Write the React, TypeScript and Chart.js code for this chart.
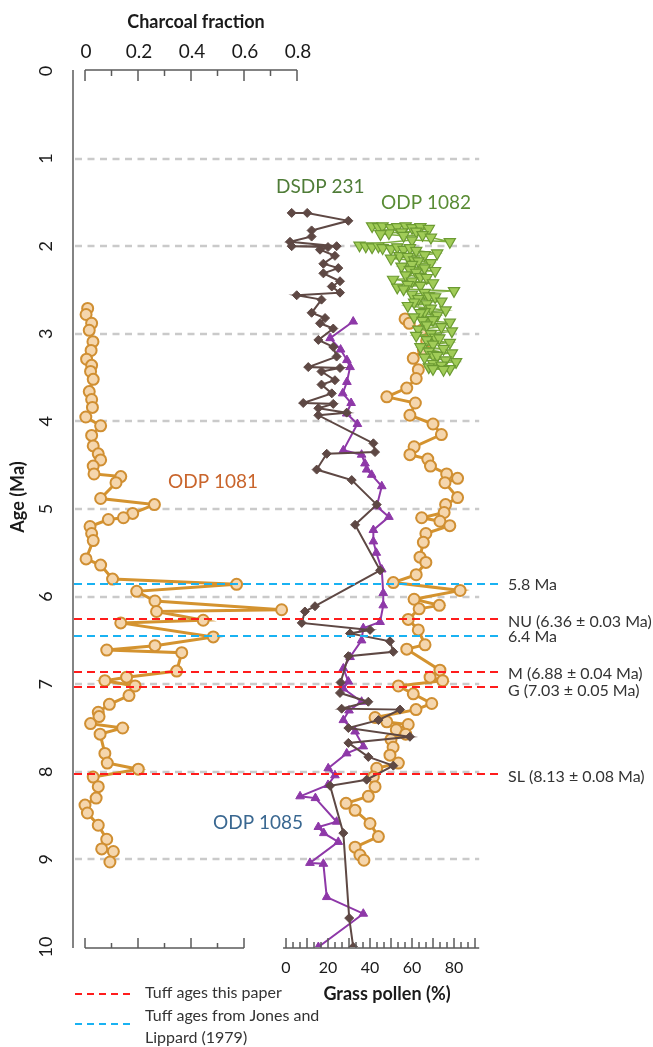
import React, { useEffect, useRef } from 'react';
import { Chart, registerables } from 'chart.js';
Chart.register(...registerables);

const FONT = 'Lato, "Open Sans", sans-serif';

// ---------- axes / ticks ----------
const AGE_TICKS = [0, 1, 2, 3, 4, 5, 6, 7, 8, 9, 10];
const GRID_AGES = [1, 2, 3, 4, 5, 6, 7, 8, 9];
const CHARCOAL_MAJOR = [0, 0.2, 0.4, 0.6, 0.8];
const CHARCOAL_LABELS = ['0', '0.2', '0.4', '0.6', '0.8'];
const CHARCOAL_MINOR = [0.1, 0.3, 0.5, 0.7];
const POLLEN_LABEL_VALUES = [0, 20, 40, 60, 80];
const POLLEN_LABELS = ['0', '20', '40', '60', '80'];

// ---------- tuff reference lines ----------
const TUFF_PAPER_AGES = [6.26, 6.86, 7.03, 8.03];
const TUFF_PAPER_LABELS = ['NU (6.36 ± 0.03 Ma)', 'M (6.88 ± 0.04 Ma)', 'G (7.03 ± 0.05 Ma)', 'SL (8.13 ± 0.08 Ma)'];
const TUFF_JL_AGES = [5.86, 6.45];
const TUFF_JL_LABELS = ['5.8 Ma', '6.4 Ma'];

// ---------- series: [age (Ma), value] ----------
const ODP1081_CHARCOAL: [number, number][] = [
  [2.71, 0.010], [2.78, 0.004], [2.88, 0.025], [2.96, 0.016], [3.09, 0.030], [3.19, 0.023], [3.29, 0.006],
  [3.36, 0.025], [3.43, 0.021], [3.52, 0.031], [3.66, 0.016], [3.75, 0.025], [3.84, 0.028], [3.95, 0.003],
  [4.05, 0.059], [4.16, 0.025], [4.28, 0.031], [4.37, 0.050], [4.44, 0.059], [4.51, 0.031], [4.60, 0.034],
  [4.63, 0.135], [4.70, 0.117], [4.88, 0.059], [4.95, 0.262], [5.05, 0.180], [5.10, 0.145], [5.12, 0.088],
  [5.20, 0.019], [5.28, 0.025], [5.36, 0.031], [5.57, 0.004], [5.64, 0.059], [5.80, 0.104], [5.86, 0.572],
  [5.94, 0.195], [6.05, 0.264], [6.15, 0.742], [6.17, 0.270], [6.27, 0.446], [6.30, 0.135], [6.46, 0.484],
  [6.56, 0.264], [6.61, 0.082], [6.64, 0.365], [6.85, 0.346], [6.92, 0.157], [6.96, 0.075], [7.02, 0.189],
  [7.13, 0.166], [7.23, 0.092], [7.32, 0.050], [7.37, 0.053], [7.45, 0.021], [7.50, 0.142], [7.57, 0.057],
  [7.79, 0.075], [7.90, 0.084], [7.97, 0.201], [8.06, 0.031], [8.17, 0.050], [8.30, 0.042], [8.38, 0.000],
  [8.47, 0.009], [8.61, 0.050], [8.77, 0.082], [8.88, 0.063], [8.91, 0.107], [9.03, 0.094],
];

const ODP1081_POLLEN: [number, number][] = [
  [2.83, 56.7], [2.88, 58.7], [2.96, 64.6], [3.08, 67.0], [3.18, 65.4], [3.28, 60.6], [3.41, 63.0],
  [3.51, 62.0], [3.62, 57.5], [3.72, 48.0], [3.79, 61.6], [3.93, 59.0], [4.03, 70.0], [4.15, 74.0],
  [4.29, 61.0], [4.38, 59.0], [4.43, 67.5], [4.51, 68.8], [4.60, 76.5], [4.65, 81.7], [4.70, 75.7],
  [4.87, 81.7], [4.95, 76.0], [5.04, 75.3], [5.10, 64.6], [5.14, 73.3], [5.19, 78.0], [5.28, 66.6],
  [5.38, 65.4], [5.55, 63.8], [5.61, 66.6], [5.75, 62.0], [5.84, 51.1], [5.93, 82.9], [6.03, 61.0],
  [6.10, 73.0], [6.14, 63.4], [6.26, 58.2], [6.38, 63.0], [6.55, 66.2], [6.60, 57.5], [6.84, 73.3],
  [6.92, 68.6], [6.96, 74.6], [7.02, 53.5], [7.11, 60.6], [7.22, 69.4], [7.29, 61.9], [7.38, 42.4],
  [7.43, 48.0], [7.46, 58.2], [7.52, 52.5], [7.57, 57.0], [7.63, 50.0], [7.72, 51.0], [7.81, 49.5],
  [7.90, 53.5], [7.96, 43.2], [8.06, 41.6], [8.17, 42.4], [8.28, 39.2], [8.36, 28.6], [8.44, 32.9],
  [8.59, 40.0], [8.74, 44.0], [8.86, 32.9], [8.95, 35.2], [9.01, 37.1],
];

const DSDP231_POLLEN: [number, number][] = [
  [1.62, 2.7], [1.62, 10.1], [1.71, 29.7], [1.82, 12.2], [1.89, 12.2], [1.95, 1.9], [2.00, 24.1],
  [2.00, 2.7], [2.01, 20.0], [2.04, 16.2], [2.11, 23.3], [2.20, 17.8], [2.25, 24.9], [2.31, 17.8],
  [2.40, 25.7], [2.46, 21.8], [2.53, 25.7], [2.56, 5.1], [2.61, 16.9], [2.76, 12.2], [2.82, 18.6],
  [2.88, 16.2], [2.94, 22.5], [3.07, 15.4], [3.15, 22.5], [3.26, 24.1], [3.38, 10.6], [3.39, 25.7],
  [3.43, 16.9], [3.53, 23.3], [3.58, 16.9], [3.68, 21.8], [3.79, 8.2], [3.80, 22.5], [3.85, 15.4],
  [3.90, 28.9], [3.93, 15.4], [4.25, 41.6], [4.35, 42.4], [4.37, 19.4], [4.55, 14.6], [4.67, 31.3],
  [4.95, 43.2], [5.18, 32.9], [5.70, 44.8], [6.11, 13.8], [6.17, 9.0], [6.30, 7.5], [6.38, 40.0],
  [6.42, 30.5], [6.51, 49.5], [6.63, 51.1], [6.68, 29.7], [6.98, 26.0], [7.10, 25.7], [7.20, 39.2],
  [7.28, 26.5], [7.29, 54.3], [7.41, 44.0], [7.50, 29.7], [7.60, 59.0], [7.67, 29.7], [7.83, 39.2],
  [7.93, 51.1], [8.09, 38.4], [8.16, 21.0], [8.70, 27.3], [9.67, 30.1], [10.0, 32.0],
];

const ODP1085_POLLEN: [number, number][] = [
  [2.86, 32.0], [3.05, 21.0], [3.18, 26.0], [3.30, 29.0], [3.38, 30.5], [3.55, 29.0], [3.68, 27.0],
  [3.79, 31.0], [3.91, 28.9], [4.03, 34.0], [4.33, 27.3], [4.38, 36.0], [4.48, 37.6], [4.55, 38.4],
  [4.61, 40.8], [4.74, 45.6], [4.97, 43.2], [5.09, 49.0], [5.24, 41.6], [5.37, 41.6], [5.50, 43.0],
  [5.69, 45.6], [5.96, 46.3], [6.10, 46.3], [6.29, 44.8], [6.36, 36.8], [6.50, 36.0], [6.69, 30.5],
  [6.82, 27.3], [6.97, 29.7], [7.05, 27.3], [7.20, 36.0], [7.30, 30.0], [7.41, 27.3], [7.54, 32.9],
  [7.71, 36.8], [7.79, 28.9], [7.96, 20.1], [8.04, 23.3], [8.15, 20.0], [8.28, 6.7], [8.30, 14.0],
  [8.57, 24.1], [8.63, 15.4], [8.70, 18.0], [8.80, 24.9], [9.04, 11.4], [9.05, 17.8], [9.43, 19.4],
  [9.62, 36.8], [10.0, 15.4],
];

const ODP1082_POLLEN: [number, number][] = [
  [1.77, 41], [1.78, 44], [1.77, 46], [1.79, 50], [1.78, 53], [1.77, 57], [1.79, 60], [1.78, 64], [1.80, 68],
  [1.83, 62], [1.84, 55], [1.85, 49], [1.86, 45], [1.88, 56], [1.87, 65], [1.90, 69], [1.95, 78], [1.93, 60],
  [1.99, 35], [2.00, 38], [2.01, 41], [2.00, 44], [2.02, 46], [2.03, 50], [2.01, 53], [2.04, 56], [2.02, 59],
  [2.05, 62], [2.08, 72], [2.10, 66], [2.11, 54], [2.12, 58], [2.14, 50], [2.16, 61], [2.17, 63], [2.19, 69],
  [2.21, 60], [2.23, 55], [2.25, 66], [2.27, 59], [2.28, 71], [2.30, 62], [2.33, 57], [2.35, 64], [2.36, 67],
  [2.38, 51], [2.40, 60], [2.42, 70], [2.44, 58], [2.45, 64], [2.47, 53], [2.49, 56], [2.51, 80], [2.53, 66],
  [2.55, 60], [2.57, 68], [2.58, 71], [2.60, 63], [2.63, 74], [2.64, 61], [2.66, 67], [2.68, 58], [2.71, 69],
  [2.73, 76], [2.75, 66], [2.76, 64], [2.79, 72], [2.81, 61], [2.84, 70], [2.85, 65], [2.87, 78], [2.90, 67],
  [2.92, 74], [2.95, 63], [2.97, 79], [3.00, 69], [3.02, 62], [3.04, 71], [3.05, 73], [3.07, 67], [3.10, 78],
  [3.12, 70], [3.15, 64], [3.17, 75], [3.20, 68], [3.22, 79], [3.24, 70], [3.25, 72], [3.27, 66], [3.30, 76],
  [3.32, 81], [3.34, 70], [3.36, 74], [3.38, 68], [3.40, 78], [3.41, 75], [3.40, 70],
];

const SERIES_LABELS = ['DSDP 231', 'ODP 1082', 'ODP 1081', 'ODP 1085'];
const LEGEND_TEXTS = ['Tuff ages this paper', 'Tuff ages from Jones and', 'Lippard (1979)'];

const toXY = (arr: [number, number][]) => arr.map(([age, v]) => ({ x: v, y: age }));

function seg(ctx: CanvasRenderingContext2D, x0: number, y0: number, x1: number, y1: number) {
  ctx.beginPath();
  ctx.moveTo(x0, y0);
  ctx.lineTo(x1, y1);
  ctx.stroke();
}

const decorPlugin = {
  id: 'decor',
  beforeDatasetsDraw(chart: any) {
    const { ctx, chartArea, scales } = chart;
    const y = scales.y, xp = scales.xp;
    ctx.save();
    ctx.strokeStyle = '#cacaca';
    ctx.lineWidth = 2.5;
    ctx.setLineDash([7, 5.5]);
    const x0 = chartArea.left + 2, x1 = xp.getPixelForValue(92);
    GRID_AGES.forEach((a) => {
      const py = Math.round(y.getPixelForValue(a));
      seg(ctx, x0, py, x1, py);
    });
    ctx.restore();
  },
  afterDatasetsDraw(chart: any) {
    const { ctx, chartArea, scales } = chart;
    const y = scales.y;
    const x0 = chartArea.left + 1, x1 = chartArea.right;
    ctx.save();
    ctx.lineWidth = 2.2;
    ctx.setLineDash([8, 5]);
    ctx.strokeStyle = '#ff1c1c';
    TUFF_PAPER_AGES.forEach((a) => {
      const py = Math.round(y.getPixelForValue(a));
      seg(ctx, x0, py, x1, py);
    });
    ctx.strokeStyle = '#19b2f2';
    TUFF_JL_AGES.forEach((a) => {
      const py = Math.round(y.getPixelForValue(a));
      seg(ctx, x0, py, x1, py);
    });
    ctx.setLineDash([]);
    ctx.fillStyle = '#333';
    ctx.font = `16px ${FONT}`;
    ctx.textAlign = 'left';
    ctx.textBaseline = 'middle';
    const lx = chartArea.right + 10;
    TUFF_PAPER_AGES.forEach((a, i) => {
      const off = i === 2 ? 4 : 2;
      ctx.fillText(TUFF_PAPER_LABELS[i], lx, y.getPixelForValue(a) + off);
    });
    TUFF_JL_AGES.forEach((a, i) => {
      ctx.fillText(TUFF_JL_LABELS[i], lx, y.getPixelForValue(a) + 1);
    });
    ctx.restore();
  },
  afterDraw(chart: any) {
    const { ctx, chartArea, scales } = chart;
    const y = scales.y, xc = scales.xc, xp = scales.xp;
    const top = chartArea.top, bottom = chartArea.bottom, left = chartArea.left;
    ctx.save();
    ctx.strokeStyle = '#5a5a5a';
    ctx.lineWidth = 1.5;
    ctx.setLineDash([]);

    // left age axis
    seg(ctx, left, top - 1, left, bottom + 1);

    // top charcoal axis
    const tY = top - 1;
    seg(ctx, xc.getPixelForValue(0), tY, xc.getPixelForValue(0.8), tY);
    CHARCOAL_MAJOR.forEach((v) => { const px = xc.getPixelForValue(v); seg(ctx, px, tY, px, tY + 11); });
    CHARCOAL_MINOR.forEach((v) => { const px = xc.getPixelForValue(v); seg(ctx, px, tY, px, tY + 6); });

    // bottom charcoal axis (0 - 0.6)
    const bY = bottom + 1;
    seg(ctx, xc.getPixelForValue(0), bY, xc.getPixelForValue(0.6), bY);
    CHARCOAL_MAJOR.filter((v) => v <= 0.6).forEach((v) => { const px = xc.getPixelForValue(v); seg(ctx, px, bY, px, bY - 10); });
    CHARCOAL_MINOR.filter((v) => v <= 0.6).forEach((v) => { const px = xc.getPixelForValue(v); seg(ctx, px, bY, px, bY - 5); });

    // bottom pollen axis
    seg(ctx, xp.getPixelForValue(-1.4), bY, xp.getPixelForValue(92), bY);
    for (let i = 0; i <= 27; i++) {
      const v = (i * 10) / 3;
      const px = xp.getPixelForValue(v);
      seg(ctx, px, bY, px, bY - (i % 3 === 0 ? 10 : 6));
    }

    // tick labels
    ctx.fillStyle = '#1a1a1a';
    ctx.textAlign = 'center';
    ctx.textBaseline = 'middle';
    ctx.font = `19px ${FONT}`;
    CHARCOAL_MAJOR.forEach((v, i) => ctx.fillText(CHARCOAL_LABELS[i], xc.getPixelForValue(v) + 1, 52));
    ctx.font = `16px ${FONT}`;
    POLLEN_LABEL_VALUES.forEach((v, i) => ctx.fillText(POLLEN_LABELS[i], xp.getPixelForValue(v), 968));
    ctx.font = `18px ${FONT}`;
    AGE_TICKS.forEach((a) => {
      ctx.save();
      ctx.translate(46, y.getPixelForValue(a));
      ctx.rotate(-Math.PI / 2);
      ctx.fillText(String(a), 0, 0);
      ctx.restore();
    });

    // axis titles
    ctx.font = `bold 18px ${FONT}`;
    ctx.fillText('Charcoal fraction', 196, 22);
    ctx.fillText('Grass pollen (%)', 387, 994);
    ctx.save();
    ctx.translate(18, 497);
    ctx.rotate(-Math.PI / 2);
    ctx.fillText('Age (Ma)', 0, 0);
    ctx.restore();

    // series labels
    ctx.font = `19px ${FONT}`;
    ctx.textAlign = 'left';
    ctx.fillStyle = '#4f7c37';
    ctx.fillText(SERIES_LABELS[0], 276, 187);
    ctx.fillStyle = '#5a8c35';
    ctx.fillText(SERIES_LABELS[1], 381, 203);
    ctx.fillStyle = '#c9652c';
    ctx.fillText(SERIES_LABELS[2], 168, 482);
    ctx.fillStyle = '#3a6891';
    ctx.fillText(SERIES_LABELS[3], 213, 823);

    // legend
    ctx.lineWidth = 2;
    ctx.setLineDash([7, 5]);
    ctx.strokeStyle = '#ff1c1c';
    seg(ctx, 75, 994, 133, 994);
    ctx.strokeStyle = '#19b2f2';
    seg(ctx, 75, 1024, 133, 1024);
    ctx.setLineDash([]);
    ctx.fillStyle = '#333';
    ctx.font = `16px ${FONT}`;
    ctx.fillText(LEGEND_TEXTS[0], 145, 993);
    ctx.fillText(LEGEND_TEXTS[1], 145, 1016);
    ctx.fillText(LEGEND_TEXTS[2], 145, 1038);
    ctx.restore();
  },
};

export default function App() {
  const ref = useRef<HTMLCanvasElement>(null);
  useEffect(() => {
    if (!ref.current) return;
    const chart = new Chart(ref.current, {
      type: 'scatter',
      data: {
        datasets: [
          {
            label: 'ODP 1082',
            data: toXY(ODP1082_POLLEN),
            xAxisID: 'xp',
            yAxisID: 'y',
            showLine: true,
            borderColor: '#7fae3f',
            borderWidth: 1.5,
            pointStyle: 'triangle',
            pointRotation: 180,
            pointRadius: 6.5,
            pointBackgroundColor: '#a1cc58',
            pointBorderColor: '#6c9b32',
            pointBorderWidth: 1.2,
            order: 0,
          },
          {
            label: 'DSDP 231',
            data: toXY(DSDP231_POLLEN),
            xAxisID: 'xp',
            yAxisID: 'y',
            showLine: true,
            borderColor: '#5e4844',
            borderWidth: 2,
            pointStyle: 'rectRot',
            pointRadius: 4.5,
            pointBackgroundColor: '#5e4844',
            pointBorderColor: '#5e4844',
            pointBorderWidth: 1,
            order: 1,
          },
          {
            label: 'ODP 1085',
            data: toXY(ODP1085_POLLEN),
            xAxisID: 'xp',
            yAxisID: 'y',
            showLine: true,
            borderColor: '#8e38a8',
            borderWidth: 2,
            pointStyle: 'triangle',
            pointRadius: 5,
            pointBackgroundColor: '#8e38a8',
            pointBorderColor: '#8e38a8',
            pointBorderWidth: 1,
            order: 2,
          },
          {
            label: 'ODP 1081 pollen',
            data: toXY(ODP1081_POLLEN),
            xAxisID: 'xp',
            yAxisID: 'y',
            showLine: true,
            borderColor: '#d4932f',
            borderWidth: 3,
            pointStyle: 'circle',
            pointRadius: 5.5,
            pointBackgroundColor: '#f5d6ad',
            pointBorderColor: '#d08f32',
            pointBorderWidth: 2,
            order: 3,
          },
          {
            label: 'ODP 1081 charcoal',
            data: toXY(ODP1081_CHARCOAL),
            xAxisID: 'xc',
            yAxisID: 'y',
            showLine: true,
            borderColor: '#d4932f',
            borderWidth: 3,
            pointStyle: 'circle',
            pointRadius: 5.5,
            pointBackgroundColor: '#f5d6ad',
            pointBorderColor: '#d08f32',
            pointBorderWidth: 2,
            order: 4,
          },
        ],
      },
      options: {
        responsive: false,
        animation: false,
        devicePixelRatio: 1,
        layout: { padding: { left: 73, top: 71, right: 155, bottom: 100 } },
        plugins: { legend: { display: false }, tooltip: { enabled: false } },
        events: [],
        scales: {
          y: { type: 'linear', reverse: true, min: 0, max: 10, display: false },
          xc: { type: 'linear', axis: 'x', position: 'top', min: -0.0453, max: 1.5585, display: false },
          xp: { type: 'linear', axis: 'x', position: 'bottom', min: -101.43, max: 100.95, display: false },
        },
      },
      plugins: [decorPlugin],
    } as any);
    return () => chart.destroy();
  }, []);
  return (
    <div style={{ position: 'absolute', left: 0, top: 0, width: 653, height: 1047 }}>
      <canvas ref={ref} width={653} height={1047} style={{ display: 'block', width: 653, height: 1047 }} />
    </div>
  );
}
